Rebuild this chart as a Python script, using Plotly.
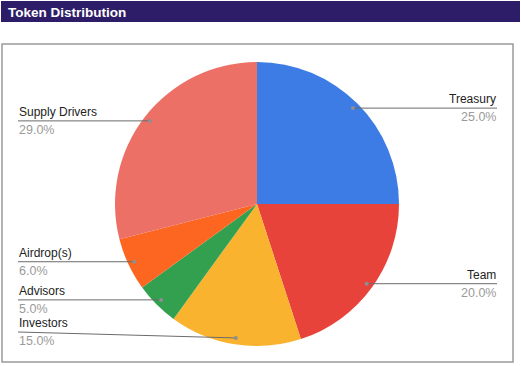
import math
import plotly.graph_objects as go

# ---- data ----
categories = ["Treasury", "Team", "Investors", "Advisors", "Airdrop(s)", "Supply Drivers"]
values = [25.0, 20.0, 15.0, 5.0, 6.0, 29.0]
colors = ["#3d7be5", "#e8433a", "#fab32f", "#33a04f", "#fd6620", "#ed7066"]
title_text = "Token Distribution"

# ---- layout constants (pixels) ----
W, H = 521, 366
CX, CY, R = 257, 204, 142
DOT_R = 0.955 * R
LEFT_X, RIGHT_X = 18, 497
LABEL_Y_MAX = 332

fig = go.Figure()

fig.add_trace(go.Pie(
    labels=categories, values=values, sort=False, direction="clockwise", rotation=0,
    marker=dict(colors=colors, line=dict(width=0)),
    textinfo="none", hoverinfo="label+percent", showlegend=False,
    domain=dict(x=[(CX - R) / W, (CX + R) / W], y=[(H - CY - R) / H, (H - CY + R) / H]),
))

total = sum(values)
cum = 0.0
shapes = []
annotations = []
for cat, v in zip(categories, values):
    mid = (cum + v / 2) / total * 2 * math.pi
    cum += v
    dx = CX + DOT_R * math.sin(mid)
    dy = CY - DOT_R * math.cos(mid)
    ly = min(dy, LABEL_Y_MAX)
    pct = f"{v / total * 100:.1f}%"
    if math.sin(mid) >= 0:
        x0, x1, tx, anchor = dx, RIGHT_X, RIGHT_X, "right"
        y0, y1 = dy, ly
    else:
        x0, x1, tx, anchor = LEFT_X, dx, LEFT_X, "left"
        y0, y1 = ly, dy
    shapes.append(dict(type="line", xref="x", yref="y", x0=x0, x1=x1, y0=y0, y1=y1,
                       line=dict(color="#6b6b6b", width=1), layer="above"))
    shapes.append(dict(type="circle", xref="x", yref="y", x0=dx - 2, x1=dx + 2, y0=dy - 2, y1=dy + 2,
                       fillcolor="#8f8f8f", line=dict(width=0), layer="above"))
    annotations.append(dict(x=tx, y=ly - 1, xref="x", yref="y", text=cat, showarrow=False,
                            xanchor=anchor, yanchor="bottom", borderpad=0,
                            font=dict(family="Liberation Sans, Arial", size=12, color="#222222")))
    annotations.append(dict(x=tx, y=ly + 1, xref="x", yref="y", text=pct, showarrow=False,
                            xanchor=anchor, yanchor="top", borderpad=0,
                            font=dict(family="Liberation Sans, Arial", size=12.5, color="#9a9a9a")))

# title bar
shapes.append(dict(type="rect", xref="x", yref="y", x0=1, x1=520, y0=1, y1=22,
                   fillcolor="#2d1c67", line=dict(width=0), layer="below"))
# chart box
shapes.append(dict(type="rect", xref="x", yref="y", x0=2, x1=513, y0=44, y1=362,
                   fillcolor="rgba(0,0,0,0)", line=dict(color="#9a9a9a", width=1.5), layer="below"))
annotations.append(dict(x=6, y=12, xref="x", yref="y", text=f"<b>{title_text}</b>", showarrow=False,
                        xanchor="left", yanchor="middle",
                        font=dict(family="Liberation Sans, Arial", size=13.5, color="white")))

fig.update_layout(
    width=W, height=H, margin=dict(l=0, r=0, t=0, b=0),
    paper_bgcolor="white", plot_bgcolor="rgba(0,0,0,0)",
    xaxis=dict(range=[0, W], visible=False, fixedrange=True),
    yaxis=dict(range=[H, 0], visible=False, fixedrange=True),
    shapes=shapes, annotations=annotations,
)

fig.write_html("out.html", config={"displayModeBar": False, "staticPlot": False},
               post_script="document.body.style.margin='0';document.body.style.overflow='hidden';")
